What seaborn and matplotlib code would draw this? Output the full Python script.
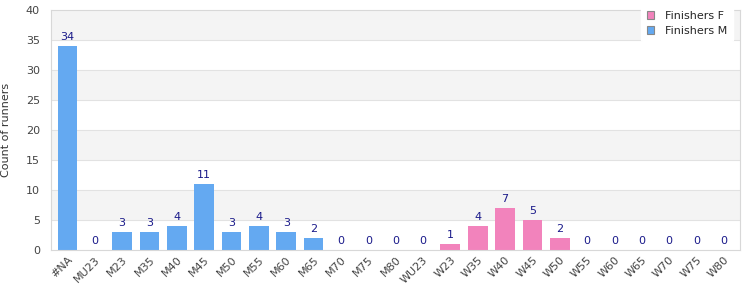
import matplotlib
matplotlib.use("Agg")
import matplotlib.pyplot as plt
import seaborn as sns
import pandas as pd
from matplotlib.patches import Patch

categories = ["#NA", "MU23", "M23", "M35", "M40", "M45", "M50", "M55", "M60", "M65",
              "M70", "M75", "M80", "WU23", "W23", "W35", "W40", "W45", "W50", "W55",
              "W60", "W65", "W70", "W75", "W80"]
values = [34, 0, 3, 3, 4, 11, 3, 4, 3, 2, 0, 0, 0, 0, 1, 4, 7, 5, 2, 0, 0, 0, 0, 0, 0]
groups = ["Finishers M"] * 14 + ["Finishers F"] * 11

df = pd.DataFrame({"cat": categories, "val": values, "grp": groups})
palette = {"Finishers M": "#64a9f1", "Finishers F": "#f283bc"}

sns.set_style("white")
plt.rcParams["font.family"] = ["DejaVu Sans"]

fig = plt.figure(figsize=(7.5, 3), dpi=100)
ax = fig.add_axes([0.068, 0.167, 0.919, 0.8])

for i in range(8):
    if i % 2 == 1:
        ax.axhspan(i * 5, (i + 1) * 5, color="#f4f4f4", zorder=0, lw=0)
for y in range(5, 40, 5):
    ax.axhline(y, color="#e2e2e2", lw=0.8, zorder=0.5)

sns.barplot(data=df, x="cat", y="val", hue="grp", palette=palette, dodge=False,
            width=0.72, order=categories, ax=ax, legend=False, zorder=2, saturation=1,
            linewidth=0)

for i, v in enumerate(values):
    ax.text(i, v + 0.6, str(v), ha="center", va="bottom", fontsize=8, color="#1a1a8a")

ax.set_ylim(0, 40)
ax.set_xlim(-0.6, len(categories) - 0.4)
ax.set_yticks(range(0, 41, 5))
ax.set_xlabel("")
ax.set_ylabel("Count of runners", fontsize=8, color="#333333")
ax.yaxis.set_label_coords(-0.058, 0.5)
ax.tick_params(axis="both", labelsize=8, colors="#444444", length=0)
ax.tick_params(axis="y", pad=8)
plt.setp(ax.get_xticklabels(), rotation=45, ha="right", rotation_mode="anchor")
for s in ax.spines.values():
    s.set_color("#d8d8d8")
    s.set_linewidth(0.8)

handles = [Patch(facecolor=palette["Finishers F"], edgecolor="#888888", lw=0.8, label="Finishers F"),
           Patch(facecolor=palette["Finishers M"], edgecolor="#888888", lw=0.8, label="Finishers M")]
leg = fig.legend(handles=handles, loc="upper right", bbox_to_anchor=(0.985, 1.0),
                 fontsize=8, frameon=True, handlelength=0.7, handleheight=0.7,
                 borderpad=0.5, labelspacing=0.4, handletextpad=1.0)
leg.get_frame().set_edgecolor("white")
leg.get_frame().set_facecolor("white")
leg.get_frame().set_alpha(1)
leg.set_zorder(10)

fig.savefig("out.png", dpi=100)
